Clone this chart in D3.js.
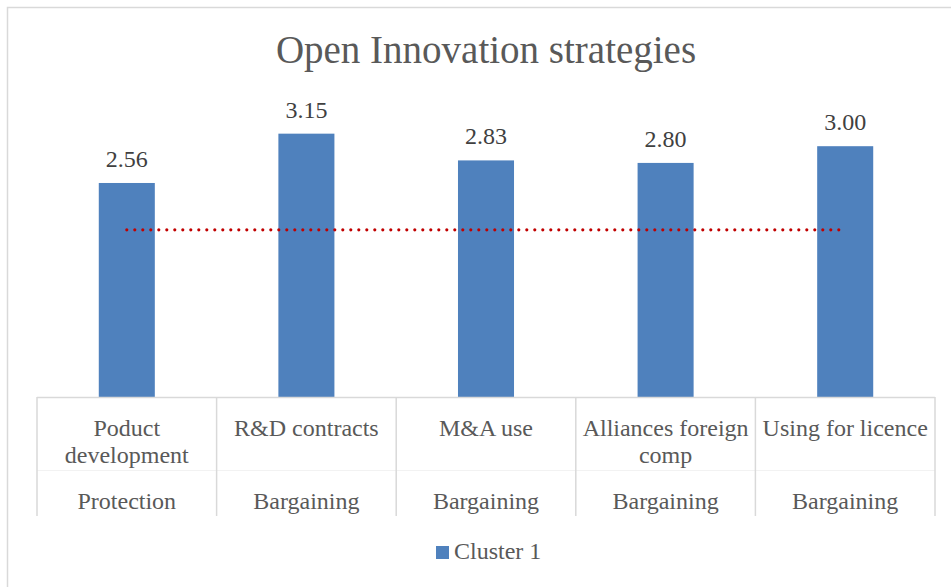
<!DOCTYPE html>
<html>
<head>
    <meta charset="utf-8">
    <title>Open Innovation strategies</title>
    <script type="text/javascript" src="https://cdn.jsdelivr.net/npm/d3@7"></script>
    <style>
        body { margin: 0; background: #fff; }
        text { font-family: "Liberation Serif", "Times New Roman", serif; }
    </style>
</head>
<body>
<script type="text/javascript">
// chart data
let categories = [
    ["Poduct", "development"],
    ["R&D contracts"],
    ["M&A use"],
    ["Alliances foreign", "comp"],
    ["Using for licence"]
]
let groups = ["Protection", "Bargaining", "Bargaining", "Bargaining", "Bargaining"]
let values = [2.56, 3.15, 2.83, 2.80, 3.00]
let refValue = 2.0
let seriesName = "Cluster 1"
let title = "Open Innovation strategies"

let width = 951,
    height = 587,
    left = 37,
    right = 935,
    base = 397

let svg = d3.select('body').append('svg')
    .attr('width', width)
    .attr('height', height)

// outer chart frame
svg.append('rect')
    .attr('x', 7.5).attr('y', 7.5)
    .attr('width', 960).attr('height', 620)
    .attr('fill', 'none')
    .attr('stroke', '#d9d9d9')
    .attr('stroke-width', 1.5)

let x = d3.scaleBand()
    .domain(d3.range(values.length))
    .range([left, right])

let y = d3.scaleLinear()
    .domain([0, 3.5])
    .range([base, base - 3.5 * 83.6])

// title
svg.append('text')
    .attr('x', (left + right) / 2)
    .attr('y', 63)
    .attr('text-anchor', 'middle')
    .attr('fill', '#595959')
    .style('font-size', '39px')
    .text(title)

let barW = x.bandwidth() * 0.312

// bars
svg.selectAll('rect.bar')
    .data(values)
    .enter().append('rect')
    .classed('bar', true)
    .attr('x', (d, i) => x(i) + x.bandwidth() / 2 - barW / 2)
    .attr('y', d => y(d))
    .attr('width', barW)
    .attr('height', d => y(0) - y(d))
    .attr('fill', '#4f81bd')

// value labels
svg.selectAll('text.val')
    .data(values)
    .enter().append('text')
    .classed('val', true)
    .attr('x', (d, i) => x(i) + x.bandwidth() / 2)
    .attr('y', d => y(d) - 16)
    .attr('text-anchor', 'middle')
    .attr('fill', '#404040')
    .style('font-size', '24px')
    .text(d => d.toFixed(2))

// dotted reference line
svg.append('line')
    .attr('x1', x(0) + x.bandwidth() / 2)
    .attr('x2', x(values.length - 1) + x.bandwidth() / 2 - 4)
    .attr('y1', y(refValue))
    .attr('y2', y(refValue))
    .attr('stroke', '#c00000')
    .attr('stroke-width', 3.2)
    .attr('stroke-linecap', 'round')
    .attr('stroke-dasharray', '0 8')

// category axis (two levels)
let axis = svg.append('g')
axis.append('line')
    .attr('x1', left).attr('x2', right)
    .attr('y1', base + 0.5).attr('y2', base + 0.5)
    .attr('stroke', '#d9d9d9').attr('stroke-width', 1.5)
axis.append('line')
    .attr('x1', left).attr('x2', right)
    .attr('y1', 470.5).attr('y2', 470.5)
    .attr('stroke', '#f2f2f2').attr('stroke-width', 1)
axis.selectAll('line.tick')
    .data(d3.range(values.length + 1))
    .enter().append('line')
    .classed('tick', true)
    .attr('x1', i => i < values.length ? x(i) : right)
    .attr('x2', i => i < values.length ? x(i) : right)
    .attr('y1', base)
    .attr('y2', 516)
    .attr('stroke', '#d9d9d9').attr('stroke-width', 1.5)

categories.forEach(function(lines, i){
    let t = axis.append('text')
        .attr('x', x(i) + x.bandwidth() / 2)
        .attr('y', 436)
        .attr('text-anchor', 'middle')
        .attr('fill', '#595959')
        .style('font-size', '24px')
    lines.forEach(function(l, j){
        t.append('tspan')
            .attr('x', x(i) + x.bandwidth() / 2)
            .attr('dy', j === 0 ? 0 : 27)
            .text(l)
    })
})

axis.selectAll('text.grp')
    .data(groups)
    .enter().append('text')
    .classed('grp', true)
    .attr('x', (d, i) => x(i) + x.bandwidth() / 2)
    .attr('y', 509)
    .attr('text-anchor', 'middle')
    .attr('fill', '#595959')
    .style('font-size', '24px')
    .text(d => d)

// legend
let legend = svg.append('g')
legend.append('rect')
    .attr('x', 436).attr('y', 546)
    .attr('width', 13).attr('height', 13)
    .attr('fill', '#4f81bd')
legend.append('text')
    .attr('x', 454).attr('y', 559)
    .attr('fill', '#595959')
    .style('font-size', '24px')
    .text(seriesName)
</script>
</body>
</html>
